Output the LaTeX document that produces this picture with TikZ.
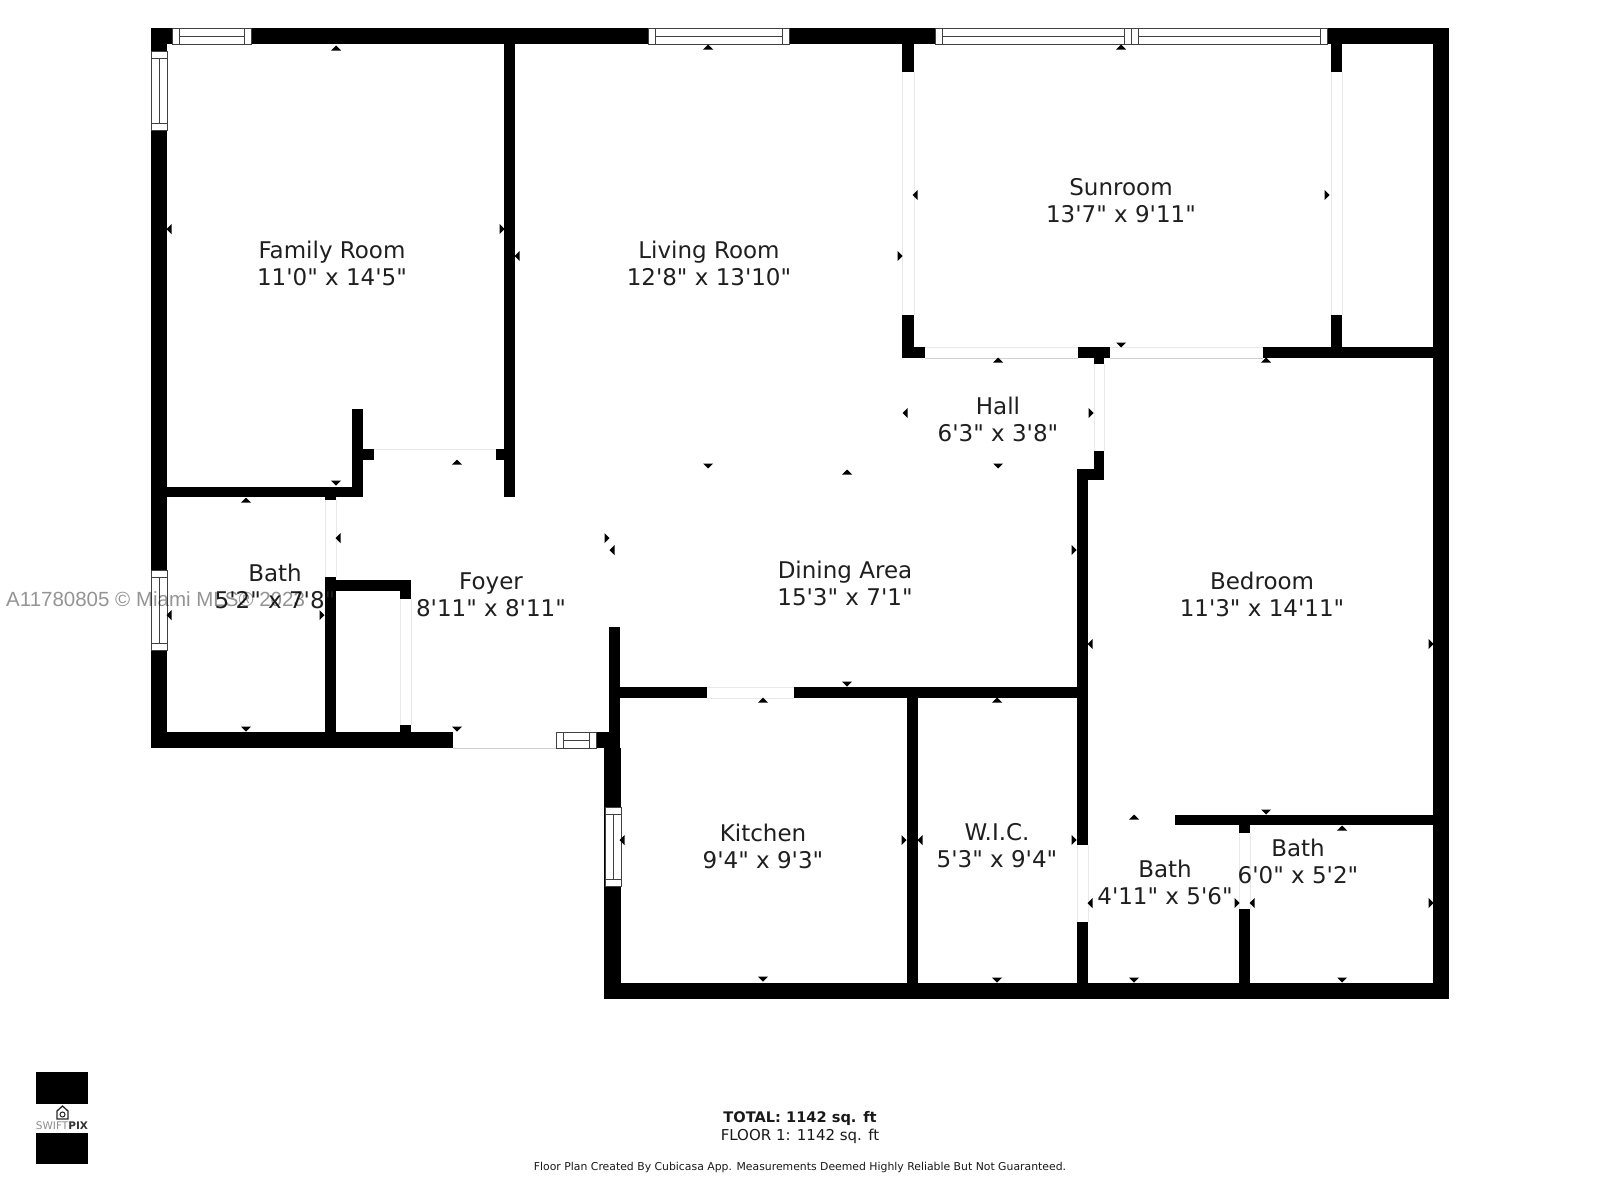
\documentclass[tikz,border=0pt]{standalone}
\usepackage{fontspec}
\setmainfont[Ligatures=TeXOff]{DejaVu Sans}
\newfontfamily\markfont{Liberation Sans}
\newcommand{\winh}[3]{% horizontal window: left, right, top y
    \draw[window] (#1, #3) rectangle (#2, #3+16);
    \draw[winline] (#1+7, #3) -- (#1+7, #3+16) (#2-7, #3) -- (#2-7, #3+16) (#1+7, #3+8) -- (#2-7, #3+8);
}
\newcommand{\winv}[3]{% vertical window: top, bottom, left x
    \draw[window] (#3, #1) rectangle (#3+16, #2);
    \draw[winline] (#3, #1+7) -- (#3+16, #1+7) (#3, #2-7) -- (#3+16, #2-7) (#3+8, #1+7) -- (#3+8, #2-7);
}
\begin{document}
\begin{tikzpicture}[
        x=1pt, y=-1pt,
        wall/.style={fill=black},
        window/.style={draw=black!75, line width=0.9pt, fill=white},
        winline/.style={draw=black!75, line width=0.9pt},
        opening/.style={fill=white},
        jamb/.style={draw=black!9, line width=0.8pt},
        sill/.style={draw=black!18, line width=0.8pt},
        tick/.style={fill=black},
        room/.style={align=center, inner sep=0pt, text=black!88, font=\fontsize{23}{27}\selectfont},
        note/.style={align=center, inner sep=0pt, text=black!90}
    ]
        \useasboundingbox (0, 0) rectangle (1600, 1200);

        % Outer walls
        \fill[wall] (151, 28) rectangle (1449, 44);
        \fill[wall] (151, 28) rectangle (167, 748);
        \fill[wall] (151, 732) rectangle (453, 748);
        \fill[wall] (1433, 28) rectangle (1449, 999);
        \fill[wall] (604, 983) rectangle (1449, 999);
        \fill[wall] (604, 748) rectangle (621, 999);
        \fill[wall] (609, 627) rectangle (620, 748);
        \fill[wall] (596, 732) rectangle (610, 748);

        % Family room and left bath
        \fill[wall] (504, 44) rectangle (515, 497);
        \fill[wall] (496, 449) rectangle (504, 460);
        \fill[wall] (352, 409) rectangle (363, 497);
        \fill[wall] (363, 449) rectangle (374, 460);
        \fill[wall] (167, 487) rectangle (363, 497);
        \fill[wall] (325, 497) rectangle (336, 500);

        % Closet
        \fill[wall] (325, 577) rectangle (336, 732);
        \fill[wall] (336, 580) rectangle (411, 591);
        \fill[wall] (400, 591) rectangle (411, 599);
        \fill[wall] (400, 725) rectangle (411, 732);

        % Sunroom
        \fill[wall] (902, 44) rectangle (914, 72);
        \fill[wall] (902, 315) rectangle (914, 358);
        \fill[wall] (902, 347) rectangle (925, 358);
        \fill[wall] (1078, 347) rectangle (1110, 358);
        \fill[wall] (1094, 358) rectangle (1104, 364);
        \fill[wall] (1263, 347) rectangle (1433, 358);
        \fill[wall] (1331, 44) rectangle (1342, 72);
        \fill[wall] (1331, 315) rectangle (1342, 347);

        % Hall corner and kitchen
        \fill[wall] (1094, 451) rectangle (1104, 480);
        \fill[wall] (1077, 469) rectangle (1104, 480);
        \fill[wall] (1077, 469) rectangle (1088, 983);
        \fill[wall] (620, 687) rectangle (1088, 698);
        \fill[wall] (907, 698) rectangle (918, 983);

        % Right baths
        \fill[wall] (1175, 815) rectangle (1433, 825);
        \fill[wall] (1239, 825) rectangle (1250, 833);
        \fill[wall] (1239, 909) rectangle (1250, 983);

        % Openings
        \fill[opening] (707, 686) rectangle (794, 699);
        \fill[opening] (1076, 845) rectangle (1089, 922);
        \draw[jamb] (374, 449) -- (496, 449);
        \draw[jamb] (325, 500) -- (325, 577) (336, 500) -- (336, 577);
        \draw[jamb] (400, 599) -- (400, 725) (411, 599) -- (411, 725);
        \draw[sill] (453, 748) -- (556, 748);
        \draw[jamb] (902, 72) -- (902, 315) (914, 72) -- (914, 315);
        \draw[jamb] (1331, 72) -- (1331, 315) (1342, 72) -- (1342, 315);
        \draw[jamb] (925, 347) -- (1078, 347);
        \draw[sill] (925, 358) -- (1078, 358);
        \draw[jamb] (1110, 347) -- (1263, 347);
        \draw[sill] (1110, 358) -- (1263, 358);
        \draw[jamb] (1094, 364) -- (1094, 451) (1104, 364) -- (1104, 451);
        \draw[jamb] (707, 687) -- (794, 687) (707, 698) -- (794, 698);
        \draw[jamb] (1077, 845) -- (1077, 922) (1088, 845) -- (1088, 922);
        \draw[jamb] (1239, 833) -- (1239, 909) (1250, 833) -- (1250, 909);

        % Windows
        \winh{172}{251}{28}
        \winh{648}{789}{28}
        \winh{935}{1131}{28}
        \winh{1131}{1327}{28}
        \winh{556}{596}{732}
        \winv{51}{130}{151}
        \winv{570}{650}{151}
        \winv{807}{886}{605}

        % Room labels
        \node[room] (family) at (332, 263) {Family Room\\11'0" x 14'5"};
        \node[room] (living) at (709, 263) {Living Room\\12'8" x 13'10"};
        \node[room] (sunroom) at (1121, 201) {Sunroom\\13'7" x 9'11"};
        \node[room] (hall) at (998, 419) {Hall\\6'3" x 3'8"};
        \node[room] (bathleft) at (275, 586) {Bath\\5'2" x 7'8"};
        \node[room] (foyer) at (491, 595) {Foyer\\8'11" x 8'11"};
        \node[room] (dining) at (845, 583) {Dining Area\\15'3" x 7'1"};
        \node[room] (bedroom) at (1262, 594) {Bedroom\\11'3" x 14'11"};
        \node[room] (kitchen) at (763, 846) {Kitchen\\9'4" x 9'3"};
        \node[room] (wic) at (997, 846) {W.I.C.\\5'3" x 9'4"};
        \node[room] (bathmid) at (1165, 882) {Bath\\4'11" x 5'6"};
        \node[room] (bathright) at (1298, 861) {Bath\\6'0" x 5'2"};

        % Dimension ticks
        \foreach \px/\py in {336/48, 708/47, 1121/47, 998/360, 1266/360, 457/462, 246/500, 847/472, 763/700, 997/700, 1134/817, 1342/828}
            \fill[tick] (\px-5, \py+2.5) -- (\px+5, \py+2.5) -- (\px, \py-2.5) -- cycle;
        \foreach \px/\py in {336/483, 708/466, 998/466, 1121/345, 246/729, 457/729, 847/684, 763/979, 997/980, 1134/980, 1342/980, 1266/812}
            \fill[tick] (\px-5, \py-2.5) -- (\px+5, \py-2.5) -- (\px, \py+2.5) -- cycle;
        \foreach \px/\py in {169/229, 517/256, 915/195, 905/413, 338/538, 612/550, 169/615, 622/840, 920/840, 1090/644, 1090/903, 1252/903}
            \fill[tick] (\px+2.5, \py-5) -- (\px+2.5, \py+5) -- (\px-2.5, \py) -- cycle;
        \foreach \px/\py in {502/229, 900/256, 1327/195, 1091/413, 607/538, 322/615, 1074/550, 904/840, 1074/840, 1431/644, 1237/903, 1431/903}
            \fill[tick] (\px-2.5, \py-5) -- (\px-2.5, \py+5) -- (\px+2.5, \py) -- cycle;

        % Watermark
        \node[anchor=west, inner sep=0pt, text=black, opacity=0.42, font=\markfont\fontsize{20.5}{24}\selectfont] (mark) at (6, 599) {A11780805 © Miami MLS® 2023};

        % Totals
        \node[note, font=\bfseries\fontsize{14.6}{18}\selectfont] (total) at (800, 1118) {TOTAL: 1142 sq. ft};
        \node[note, font=\fontsize{15}{18}\selectfont] (floor) at (800, 1136) {FLOOR 1: 1142 sq. ft};
        \node[note, font=\fontsize{10.85}{13}\selectfont] (disclaimer) at (800, 1167) {Floor Plan Created By Cubicasa App. Measurements Deemed Highly Reliable But Not Guaranteed.};

        % Logo
        \fill[wall] (36, 1072) rectangle (88, 1104);
        \fill[wall] (36, 1133) rectangle (88, 1164);
        \draw[line width=1.3pt, black!85] (57, 1119) -- (57, 1111) -- (62.5, 1106) -- (68, 1111) -- (68, 1119) -- cycle;
        \draw[line width=1pt, black!85] (62.5, 1114.5) circle (2.5);
        \node[inner sep=0pt, font=\fontsize{10.5}{12}\selectfont] (logo) at (62, 1126) {\textcolor{black!45}{SWIFT}\textcolor{black!80}{\bfseries PIX}};
    \end{tikzpicture}
\end{document}
